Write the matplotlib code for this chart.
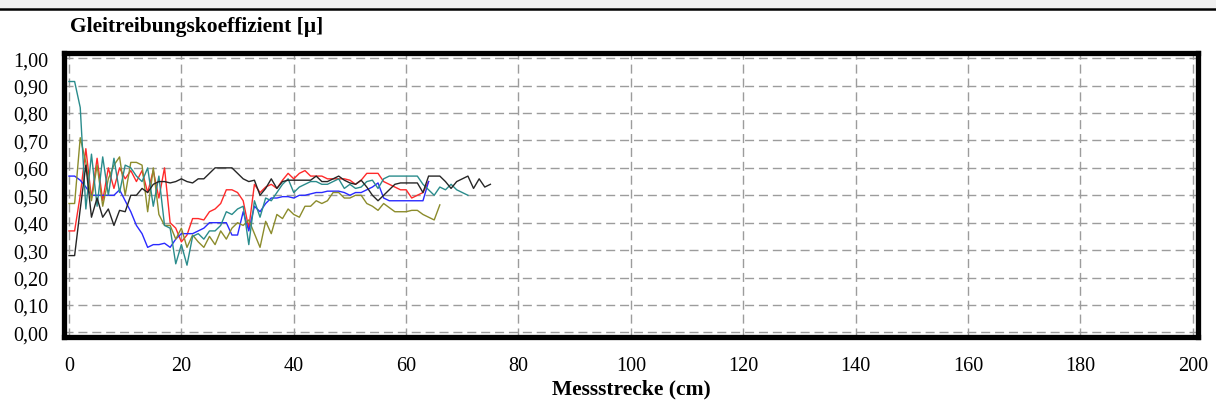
import matplotlib
matplotlib.use("Agg")
import matplotlib.pyplot as plt
from matplotlib.lines import Line2D
from matplotlib.patches import Rectangle

# Friction coefficient per measurement run, one sample per cm
black_run = [0.28, 0.28, 0.45, 0.61, 0.42, 0.49, 0.42, 0.45, 0.39, 0.445, 0.44, 0.50, 0.50,
             0.525, 0.51, 0.54, 0.55, 0.55, 0.545, 0.55, 0.56, 0.55, 0.545, 0.56, 0.56, 0.58,
             0.60, 0.60, 0.60, 0.60, 0.58, 0.56, 0.55, 0.555, 0.50, 0.525, 0.56, 0.525, 0.55,
             0.555, 0.555, 0.555, 0.555, 0.555, 0.57, 0.55, 0.55, 0.56, 0.57, 0.555, 0.545,
             0.54, 0.555, 0.53, 0.50, 0.48, 0.50, 0.52, 0.54, 0.545, 0.545, 0.545, 0.545, 0.51,
             0.57, 0.57, 0.57, 0.55, 0.525, 0.55, 0.56, 0.57, 0.525, 0.56, 0.53, 0.54]
teal_run = [0.915, 0.915, 0.82, 0.45, 0.65, 0.46, 0.64, 0.50, 0.635, 0.51, 0.61, 0.60, 0.57,
            0.55, 0.60, 0.46, 0.57, 0.39, 0.38, 0.25, 0.32, 0.245, 0.35, 0.36, 0.34, 0.37, 0.37,
            0.39, 0.44, 0.43, 0.45, 0.46, 0.32, 0.48, 0.42, 0.49, 0.48, 0.51, 0.54, 0.56, 0.51,
            0.53, 0.54, 0.55, 0.55, 0.54, 0.54, 0.55, 0.56, 0.525, 0.54, 0.525, 0.53, 0.55,
            0.555, 0.525, 0.56, 0.57, 0.57, 0.57, 0.57, 0.57, 0.57, 0.54, 0.52, 0.50, 0.53,
            0.52, 0.54, 0.52, 0.51, 0.50]
red_run = [0.37, 0.37, 0.50, 0.67, 0.49, 0.635, 0.48, 0.60, 0.525, 0.60, 0.56, 0.59, 0.55,
           0.59, 0.51, 0.59, 0.49, 0.60, 0.40, 0.38, 0.33, 0.355, 0.415, 0.415, 0.41, 0.44,
           0.45, 0.47, 0.52, 0.52, 0.51, 0.48, 0.38, 0.54, 0.51, 0.53, 0.54, 0.525, 0.555,
           0.58, 0.56, 0.58, 0.59, 0.57, 0.57, 0.57, 0.56, 0.56, 0.56, 0.56, 0.555, 0.54,
           0.555, 0.58, 0.58, 0.58, 0.55, 0.54, 0.53, 0.52, 0.52, 0.49, 0.50, 0.51, 0.55]
blue_run = [0.57, 0.57, 0.555, 0.53, 0.50, 0.50, 0.50, 0.50, 0.50, 0.52, 0.48, 0.44, 0.39,
            0.36, 0.31, 0.32, 0.32, 0.325, 0.31, 0.34, 0.36, 0.36, 0.36, 0.37, 0.38, 0.40,
            0.40, 0.40, 0.40, 0.355, 0.355, 0.44, 0.37, 0.46, 0.44, 0.47, 0.49, 0.49, 0.495,
            0.495, 0.49, 0.50, 0.50, 0.505, 0.51, 0.51, 0.515, 0.515, 0.515, 0.51, 0.50, 0.51,
            0.51, 0.52, 0.53, 0.545, 0.49, 0.48, 0.48, 0.48, 0.48, 0.48, 0.48, 0.48, 0.55]
olive_run = [0.47, 0.47, 0.71, 0.62, 0.48, 0.61, 0.46, 0.56, 0.61, 0.64, 0.50, 0.62, 0.62,
             0.61, 0.44, 0.60, 0.43, 0.39, 0.39, 0.34, 0.38, 0.31, 0.355, 0.33, 0.31, 0.35,
             0.32, 0.37, 0.34, 0.38, 0.40, 0.39, 0.41, 0.36, 0.31, 0.405, 0.36, 0.43, 0.415,
             0.45, 0.43, 0.42, 0.46, 0.46, 0.48, 0.47, 0.48, 0.51, 0.51, 0.49, 0.49, 0.50, 0.50,
             0.47, 0.46, 0.445, 0.47, 0.455, 0.44, 0.44, 0.44, 0.445, 0.445, 0.43, 0.42, 0.41,
             0.465]

x_ticks = [0, 20, 40, 60, 80, 100, 120, 140, 160, 180, 200]
y_ticks = [0.0, 0.1, 0.2, 0.3, 0.4, 0.5, 0.6, 0.7, 0.8, 0.9, 1.0]

plt.rcParams["font.family"] = ["Liberation Serif", "DejaVu Serif"]

fig = plt.figure(figsize=(12.16, 4.14), dpi=100)

# gray strip and rule at the very top
fig.patches.append(Rectangle((0, 1 - 9 / 414), 1, 9 / 414, transform=fig.transFigure,
                             facecolor="#f0f0f0", edgecolor="none"))
fig.add_artist(Line2D([0, 1], [1 - 9.8 / 414, 1 - 9.8 / 414], color="black", lw=1.8,
                      transform=fig.transFigure))

ax = fig.add_axes([0.05263, 0.18357, 0.93257, 0.68599])

# draw the runs
runs = [(red_run, "#ff2a2a"), (blue_run, "#2a2aff"), (olive_run, "#8c8c2c"),
        (teal_run, "#2a8c8c"), (black_run, "#262626")]
for values, color in runs:
    ax.plot(range(len(values)), values, color=color, lw=1.0)

ax.set_xlim(-0.89, 200.94)
ax.set_ylim(-0.017, 1.019)
ax.set_xticks(x_ticks)
ax.set_yticks(y_ticks)
ax.set_yticklabels([f"{v:.2f}".replace(".", ",") for v in y_ticks])
ax.tick_params(length=0, labelsize=14.5)
ax.tick_params(axis="y", pad=11)
ax.tick_params(axis="x", pad=14)
ax.grid(True, color="#9c9c9c", lw=1.0, linestyle=(0, (6.5, 3.5)))

for spine in ax.spines.values():
    spine.set_linewidth(3.8)
    spine.set_color("black")

fig.text(70 / 1216, 1 - 27 / 414, "Gleitreibungskoeffizient [µ]", fontsize=15.5,
         fontweight="bold", va="center", ha="left")
ax.set_xlabel("Messstrecke (cm)", fontsize=15.5, fontweight="bold", labelpad=2)

fig.savefig("out.png", dpi=100)
